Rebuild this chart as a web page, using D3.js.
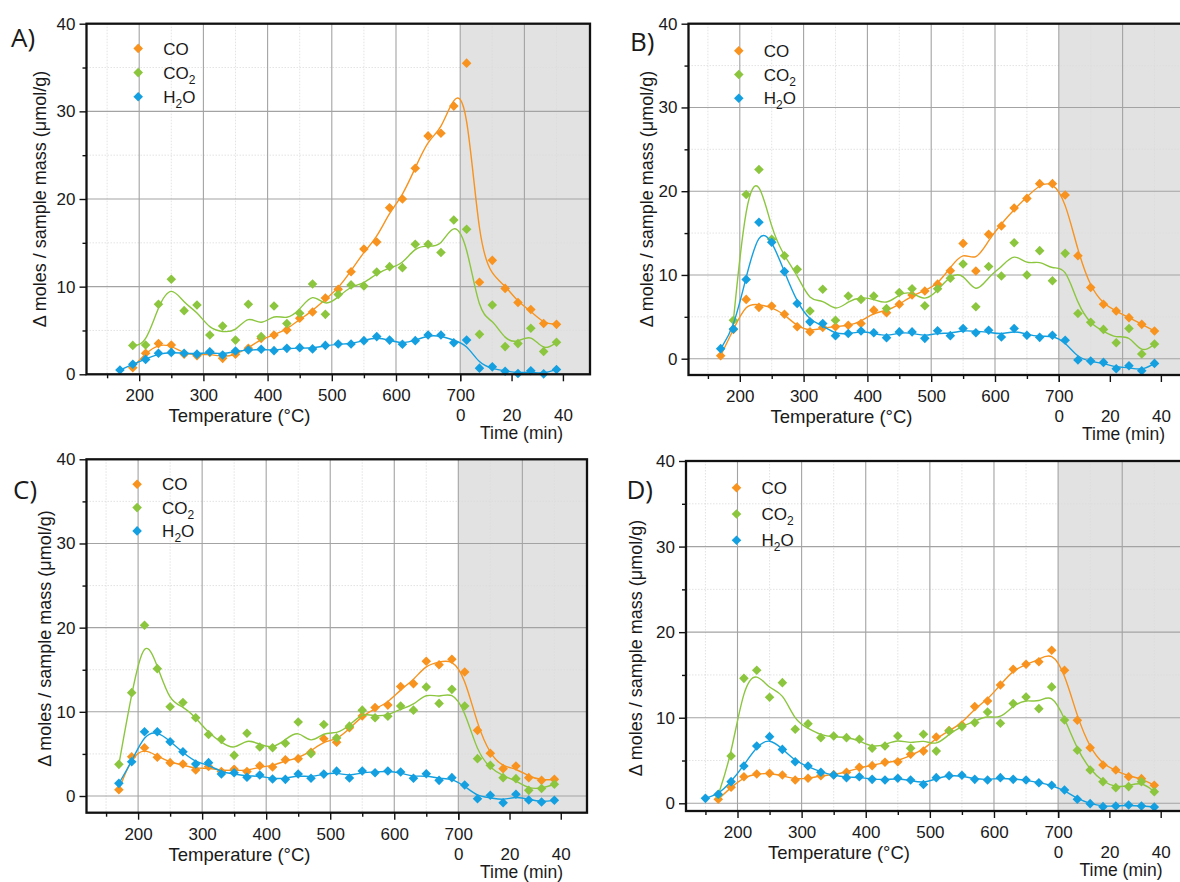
<!DOCTYPE html>
<html>
<head>
<meta charset="utf-8">
<script src="https://cdn.jsdelivr.net/npm/d3@7"></script>
<style>
  body { margin: 0; background: #fff; }
  svg { display: block; }
  text { font-family: "Liberation Sans", Arial, sans-serif; fill: #1a1a1a; }
</style>
</head>
<body>
<div id="chart"></div>
<script>
// heating ramp points (°C), then the isothermal hold points (min)
const tempPts = [150, 170, 190, 210, 230, 250, 270, 290, 310, 330, 350, 370, 390, 410,
                 430, 450, 470, 490, 510, 530, 550, 570, 590, 610, 630, 650, 670, 690];
const timePts = [2.5, 7.5, 12.5, 17.5, 22.5, 27.5, 32.5, 37.5];

const tempTicks = [200, 300, 400, 500, 600, 700];
const tempMinor = [150, 250, 350, 450, 550, 650];
const timeTicks = [0, 20, 40];
const yTicks = [0, 10, 20, 30, 40];
const yMinor = [5, 15, 25, 35];

// values: 28 ramp points followed by 8 hold points (µmol/g)
const coA  = [null, null, 0.76, 2.4, 3.5, 3.34, 2.28, 2.13, 2.5, 1.82, 2.28, 2.96, 4.1, 4.48, 5.05, 6.4, 7.1, 8.7, 9.7, 11.7, 14.3, 15.1, 19.0, 20.0, 23.5, 27.2, 27.5, 30.6,
              35.5, 10.5, 13.0, 9.8, 8.2, 7.4, 5.8, 5.7];
const co2A = [null, null, 3.3, 3.35, 8.0, 10.84, 7.26, 7.9, 4.48, 5.5, 3.9, 8.0, 4.3, 7.8, 5.8, 6.96, 10.3, 6.84, 9.1, 10.2, 10.08, 11.67, 12.28, 12.17, 14.83, 14.83, 13.9, 17.6,
              16.54, 4.56, 7.9, 3.16, 3.5, 5.25, 2.6, 3.65];
const h2oA = [null, 0.49, 1.14, 1.7, 2.4, 2.5, 2.4, 2.3, 2.58, 2.2, 2.66, 2.77, 2.85, 2.7, 2.96, 3.04, 2.9, 3.3, 3.45, 3.45, 3.84, 4.3, 3.9, 3.42, 3.84, 4.49, 4.49, 3.6,
              3.9, 0.7, 0.85, 0.35, 0.1, 0.4, 0.05, 0.55];

const coB  = [null, 0.36, 3.5, 7.08, 6.13, 6.29, 5.3, 3.82, 3.22, 3.74, 3.82, 4.0, 4.2, 5.8, 5.5, 6.5, 7.6, 8.08, 8.9, 10.5, 13.77, 10.47, 14.85, 15.84, 18.0, 19.14, 20.9, 20.9,
              19.54, 12.3, 8.5, 6.5, 5.7, 4.9, 4.1, 3.3];
const co2B = [null, null, 4.6, 19.6, 22.6, 14.25, 12.3, 10.67, 5.7, 8.3, 4.6, 7.48, 7.08, 7.48, 6.0, 7.9, 8.36, 6.33, 8.36, 9.6, 11.3, 6.2, 11.0, 9.87, 13.85, 10.0, 12.9, 9.3,
              12.58, 5.4, 4.34, 3.5, 1.9, 3.6, 0.56, 1.75];
const h2oB = [null, 1.2, 3.54, 9.47, 16.3, 13.9, 10.4, 6.6, 4.4, 4.2, 2.75, 3.0, 3.3, 3.1, 2.5, 3.2, 3.2, 2.43, 3.34, 2.75, 3.6, 3.1, 3.4, 2.6, 3.6, 2.8, 2.55, 2.8,
              2.2, -0.16, -0.28, -0.44, -1.2, -0.84, -1.43, -0.56];

const coC  = [null, 0.75, 4.67, 5.74, 4.6, 3.96, 3.8, 3.1, 3.5, 2.9, 3.17, 2.9, 3.6, 3.45, 4.3, 4.44, 5.2, 6.8, 6.4, 8.1, 9.5, 10.5, 10.8, 13.0, 13.35, 16.0, 15.6, 16.24,
              14.73, 7.8, 5.07, 3.25, 3.56, 2.18, 1.86, 1.98];
const co2C = [null, 3.76, 12.28, 20.28, 15.13, 10.6, 11.1, 9.3, 7.3, 6.73, 4.83, 7.45, 5.82, 5.74, 6.26, 8.8, 5.03, 8.5, 6.9, 8.3, 10.2, 9.3, 9.47, 10.7, 10.2, 12.95, 11.0, 12.67,
              10.7, 4.44, 3.64, 2.18, 2.06, 0.67, 0.9, 1.39];
const h2oC = [null, 1.5, 4.07, 7.64, 7.64, 6.45, 5.26, 3.8, 3.96, 2.61, 2.77, 2.22, 2.5, 2.02, 1.98, 2.61, 2.1, 2.6, 2.95, 2.14, 2.97, 2.77, 2.97, 2.85, 2.1, 2.65, 1.86, 2.18,
              1.3, -0.32, 0.08, -0.8, 0.2, -0.48, -0.71, -0.51];

const coD  = [null, 0.47, 1.87, 3.1, 3.42, 3.5, 3.3, 2.73, 2.93, 3.23, 3.35, 3.62, 4.2, 4.4, 4.8, 4.85, 5.73, 6.1, 7.75, 8.5, 9.15, 11.3, 11.96, 13.83, 15.66, 16.24, 16.55, 17.88,
              15.54, 9.7, 6.5, 4.48, 3.9, 3.1, 2.88, 2.1];
const co2D = [null, 1.0, 5.53, 14.6, 15.54, 12.4, 14.1, 8.65, 9.3, 7.67, 7.87, 7.67, 7.48, 6.43, 6.7, 7.87, 6.43, 8.06, 6.1, 8.45, 8.96, 9.43, 10.67, 9.35, 11.65, 12.42, 11.06, 13.6,
              9.74, 6.2, 3.9, 2.53, 1.83, 1.95, 2.53, 1.36];
const h2oD = [0.58, 1.05, 2.53, 4.36, 6.7, 7.79, 6.3, 4.86, 4.36, 3.62, 3.3, 3.0, 3.1, 2.8, 2.73, 2.93, 2.73, 2.2, 3.0, 3.23, 3.27, 2.8, 2.73, 3.0, 2.8, 2.73, 2.4, 2.1,
              1.56, 0.47, -0.04, -0.39, -0.31, -0.2, -0.31, -0.43];

const colors = ['#f7931e', '#8cc63f', '#14a0e0'];

// panel placement on the page
const panels = [
  {letter: 'A', series: [coA, co2A, h2oA], left: 86.5, top: 23.7, width: 503.5, p200: 139.2, p700: 460.2,
   y0: 374.3, bottom: 374.3, titleX: 40, titleY: 199, letterX: 11, letterY: 46.5, legTop: 24.7, legStep: 24.2},
  {letter: 'B', series: [coB, co2B, h2oB], left: 688.5, top: 23.7, width: 503, p200: 739.8, p700: 1058.8,
   y0: 358.7, bottom: 375, titleX: 647, titleY: 199, letterX: 630, letterY: 50.5, legTop: 27, legStep: 23.8},
  {letter: 'C', series: [coC, co2C, h2oC], left: 86.5, top: 459.3, width: 500.5, p200: 138.1, p700: 458.3,
   y0: 796, bottom: 812.7, titleX: 45, titleY: 638.5, letterX: 13, letterY: 499, legTop: 25, legStep: 23.3},
  {letter: 'D', series: [coD, co2D, h2oD], left: 686, top: 461, width: 503, p200: 737.5, p700: 1058.1,
   y0: 803.3, bottom: 811, titleX: 636, titleY: 648, letterX: 626.5, letterY: 499, legTop: 26.7, legStep: 26.3}
];

// light 5-point smoothing (half Savitzky-Golay, half raw) for the trend line
function smooth(vals) {
  const w = [-3, 12, 52, 12, -3];
  return vals.map((v, i) => {
    if (i < 2 || i > vals.length - 3) return v;
    return d3.sum(w, (c, j) => c * vals[i + j - 2]) / 70;
  });
}

const svg = d3.select('#chart').append('svg')
  .attr('width', 1180)
  .attr('height', 882);

const diamond = d3.symbol(d3.symbolSquare, 46);

panels.forEach(p => {
  const h = p.bottom - p.top;
  const x = d3.scaleLinear().domain([200, 700]).range([p.p200 - p.left, p.p700 - p.left]);
  const t = d3.scaleLinear().domain([0, 40]).range([x(700), x(860)]);
  const y = d3.scaleLinear().domain([0, 40]).range([p.y0 - p.top, 0]);

  const g = svg.append('g').attr('transform', `translate(${p.left},${p.top})`);

  // isothermal hold region
  g.append('rect')
    .attr('x', x(700)).attr('y', 0)
    .attr('width', p.width - x(700)).attr('height', h)
    .attr('fill', '#e2e2e2');

  // grid
  const minorX = [150, 250, 350, 450, 550, 650, 750, 850];
  const majorX = [200, 300, 400, 500, 600, 700, 800];
  g.selectAll('.vminor').data(minorX).join('line')
    .attr('x1', d => x(d)).attr('x2', d => x(d)).attr('y1', 0).attr('y2', h)
    .attr('stroke', '#dcdcdc').attr('stroke-width', 0.8).attr('stroke-dasharray', '1.5,1.5');
  g.selectAll('.hminor').data(yMinor).join('line')
    .attr('x1', 0).attr('x2', p.width).attr('y1', d => y(d)).attr('y2', d => y(d))
    .attr('stroke', '#dcdcdc').attr('stroke-width', 0.8).attr('stroke-dasharray', '1.5,1.5');
  g.selectAll('.vmajor').data(majorX).join('line')
    .attr('x1', d => x(d)).attr('x2', d => x(d)).attr('y1', 0).attr('y2', h)
    .attr('stroke', '#a3a3a3').attr('stroke-width', 1.1);
  g.selectAll('.hmajor').data([0, 10, 20, 30]).join('line')
    .attr('x1', 0).attr('x2', p.width).attr('y1', d => y(d)).attr('y2', d => y(d))
    .attr('stroke', '#a3a3a3').attr('stroke-width', 1.1);

  // series
  p.series.forEach((s, k) => {
    const pts = tempPts.map((T, i) => ({px: x(T), v: s[i]}))
      .concat(timePts.map((m, j) => ({px: t(m), v: s[tempPts.length + j]})))
      .filter(d => d.v !== null);
    const sm = smooth(pts.map(d => d.v));

    const line = d3.line()
      .x(d => d.px)
      .y((d, i) => y(sm[i]))
      .curve(d3.curveBasis);

    g.append('path')
      .datum(pts)
      .attr('d', line)
      .attr('fill', 'none')
      .attr('stroke', colors[k])
      .attr('stroke-width', 1.4);

    g.selectAll('.pt' + k).data(pts).join('path')
      .attr('class', 'pt' + k)
      .attr('d', diamond)
      .attr('transform', d => `translate(${d.px},${y(d.v)}) rotate(45)`)
      .attr('fill', colors[k]);
  });

  // frame
  g.append('rect')
    .attr('width', p.width).attr('height', h)
    .attr('fill', 'none').attr('stroke', '#111').attr('stroke-width', 2.3);

  // axes
  g.append('g')
    .call(d3.axisLeft(y).tickValues(yTicks).tickSize(7).tickPadding(4))
    .call(a => a.select('.domain').remove());
  g.append('g')
    .call(d3.axisLeft(y).tickValues(yMinor).tickSize(4).tickFormat(''))
    .call(a => a.select('.domain').remove());

  g.append('g')
    .attr('transform', `translate(0,${h})`)
    .call(d3.axisBottom(x).tickValues(tempTicks).tickSize(7).tickPadding(8))
    .call(a => a.select('.domain').remove());
  g.append('g')
    .attr('transform', `translate(0,${h})`)
    .call(d3.axisBottom(x).tickValues(tempMinor).tickSize(4).tickFormat(''))
    .call(a => a.select('.domain').remove());
  g.append('g')
    .attr('transform', `translate(0,${h})`)
    .call(d3.axisBottom(t).tickValues(timeTicks).tickSize(7).tickPadding(28))
    .call(a => a.select('.domain').remove());

  g.selectAll('.tick line').attr('stroke', '#111').attr('stroke-width', 1.4);
  g.selectAll('.tick text')
    .attr('font-size', 17)
    .attr('font-family', '"Liberation Sans", Arial, sans-serif')
    .attr('fill', '#1a1a1a');

  // axis titles
  g.append('text')
    .attr('x', 153).attr('y', h + 48)
    .attr('text-anchor', 'middle')
    .attr('font-size', 18.5)
    .text('Temperature (°C)');
  g.append('text')
    .attr('x', 435).attr('y', h + 65)
    .attr('text-anchor', 'middle')
    .attr('font-size', 17.5)
    .text('Time (min)');

  svg.append('text')
    .attr('transform', `translate(${p.titleX},${p.titleY}) rotate(-90)`)
    .attr('text-anchor', 'middle')
    .attr('dy', '0.35em')
    .attr('font-size', 18)
    .text('Δ moles / sample mass (μmol/g)');

  svg.append('text')
    .attr('x', p.letterX).attr('y', p.letterY)
    .style('font-family', '"Open Sans", sans-serif')
    .attr('font-size', 26)
    .attr('fill', '#000')
    .text(p.letter + ')');

  // legend
  const leg = g.append('g');
  ['CO', 'CO2', 'H2O'].forEach((name, k) => {
    const ly = p.legTop + k * p.legStep;
    leg.append('path')
      .attr('d', diamond)
      .attr('transform', `translate(${x(200) - 1},${ly}) rotate(45)`)
      .attr('fill', colors[k]);
    const txt = leg.append('text')
      .attr('x', x(200) + 24).attr('y', ly)
      .attr('dy', '0.36em')
      .attr('font-size', 17);
    if (name === 'CO') {
      txt.text('CO');
    } else if (name === 'CO2') {
      txt.append('tspan').text('CO');
      txt.append('tspan').attr('font-size', 12).attr('dy', 5).text('2');
    } else {
      txt.append('tspan').text('H');
      txt.append('tspan').attr('font-size', 12).attr('dy', 5).text('2');
      txt.append('tspan').attr('dy', -5).text('O');
    }
  });
});
</script>
</body>
</html>
